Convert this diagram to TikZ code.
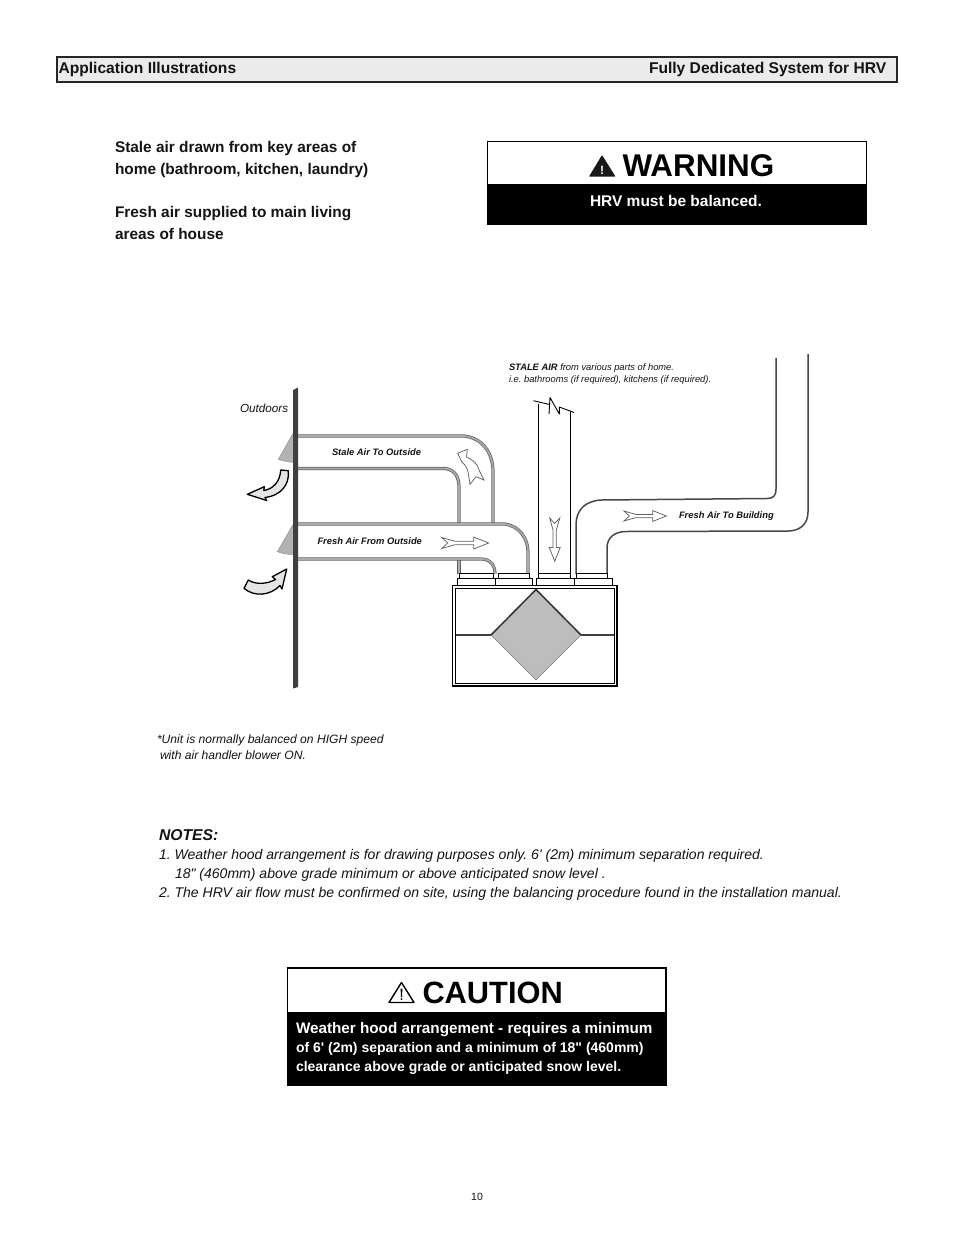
\documentclass[tikz,border=0pt]{standalone}
\usepackage{fontspec}
\setmainfont{Liberation Sans}[Ligatures=TeXOff]
\AtBeginDocument{\frenchspacing}
\newcommand{\fs}[1]{\fontsize{#1}{#1}\selectfont}
\tikzset{
  txt/.style={anchor=base west,inner sep=0pt,outer sep=0pt,text=#1},
  txt/.default={black!92},
  hd/.style={txt,font=\fs{15.6}\bfseries},
  lead/.style={txt,font=\fs{15.4}\bfseries},
  note/.style={txt,font=\fs{14.03}\itshape},
  small/.style={txt,font=\fs{12.1}\itshape},
  lab/.style={txt,font=\fs{9.35}\bfseries\itshape},
  tiny/.style={txt,font=\fs{9.35}\itshape},
  ductg/.style={draw=black!62,line width=3.2pt,postaction={draw=black!33,line width=1.7pt}},
  ductf/.style={draw=black!72,line width=1.5pt},
  thin line/.style={draw=black,line width=1pt},
  flow/.style={draw=black!62,fill=white,line width=.75pt},
  swoosh/.style={draw=black,fill=black!10,line width=1.3pt,line join=round},
  hood/.style={fill=black!30,draw=black!45,line width=.4pt},
  collar/.style={draw=black,fill=white,line width=1pt},
}
\newcommand{\flowarrow}[4]{%
  \begin{scope}[shift={(#1,#2)},rotate=#3,scale=#4]
    \path[flow] (0,-5.5)--(13,-1.8)--(32,-1.8)--(32,-6)--(47,0)--(32,6)--(32,1.8)--(13,1.8)--(0,5.5)--(6,0)--cycle;
  \end{scope}}
\begin{document}
\begin{tikzpicture}[x=1pt,y=-1pt]
\useasboundingbox (0,0) rectangle (954,1235);
\fill[white] (0,0) rectangle (954,1235);

% header
\draw[fill=black!8,draw=black!85,line width=1.5pt] (57,57) rectangle (897,82);
\node[hd] (h1) at (58.5,73.3) {Application Illustrations};
\node[hd] (h2) at (649,73.3) {Fully Dedicated System for HRV};

% lead text
\node[lead] (l1) at (115,152.2) {Stale air drawn from key areas of};
\node[lead] (l2) at (115,174.2) {home (bathroom, kitchen, laundry)};
\node[lead] (l3) at (115,217.2) {Fresh air supplied to main living};
\node[lead] (l4) at (115,239.2) {areas of house};

% warning
\draw[fill=white,draw=black,line width=1pt] (487.5,141) rectangle (866.5,224);
\fill[black] (487,184) rectangle (867,224);
\fill[black!90,rounded corners=.6pt] (602,155) -- (615.5,176.5) -- (589,176.5) -- cycle;
\node[txt=white,font=\fs{12}\bfseries,anchor=base] (wb) at (602,174.5) {!};
\node[txt=black,font=\fs{31.4}\bfseries] (w) at (622.5,176) {WARNING};
\node[txt=white,font=\fs{15.5}\bfseries,anchor=base] (w2) at (676,206.8) {HRV must be balanced.};

% wall
\fill[black!75] (293,390) -- (298,387.5) -- (298,687) -- (293,688.5) -- cycle;

% hoods
\path[hood] (292.7,434) -- (278.3,459.3) .. controls (283,461) and (288,462) .. (292.7,462.3) -- cycle;
\path[hood] (292.7,525) -- (277.3,551.7) .. controls (282,553.5) and (288,554.5) .. (292.7,554.5) -- cycle;

% stale duct
\path[ductg] (298,436) -- (464,436) .. controls (482,438) and (493,452) .. (493,472) -- (493,523);
\path[ductg] (298,468.5) -- (444,468.5) .. controls (454,469) and (459,476) .. (459,487) -- (459,523);
\path[ductg] (459,559) -- (459,574);
% fresh duct
\path[ductg] (298,524) -- (505,524) .. controls (519,526) and (528,538) .. (528,552) -- (528,574);
\path[ductg] (298,559) -- (481,559) .. controls (490,559) and (495,565) .. (495,574);
% stale from home
\draw[thin line] (538,404) -- (538,574);
\draw[thin line] (570,411) -- (570,574);
\draw[thin line,line width=.9pt] (533.5,400.7) -- (549.5,404.5);
\draw[thin line,line join=round,line width=.9pt] (549,414) -- (550,397.5) -- (559.3,414) -- (559.3,407) -- (574,412.5);
% to building
\path[ductf] (776,358) -- (776,489) .. controls (776,496) and (773,498.5) .. (767,498.5) -- (601,500) .. controls (585,501) and (576,510) .. (576,525) -- (576,574);
\path[ductf] (808,354) -- (808,512) .. controls (808,524) and (800,531) .. (788,531) -- (625,531.5) .. controls (614,532) and (607,538) .. (607,548) -- (607,574);

% collars
\draw[collar] (459.5,573) rectangle (493,578.5);
\draw[collar] (498,573) rectangle (529.5,578.5);
\draw[collar] (538,573) rectangle (570,578.5);
\draw[collar] (576,573) rectangle (607,578.5);
\draw[collar] (457,578.5) rectangle (495.5,585);
\draw[collar] (495.5,578.5) rectangle (532.5,585);
\draw[collar] (536,578.5) rectangle (574,585);
\draw[collar] (574,578.5) rectangle (612,585);

% HRV unit
\draw[draw=black,fill=white,line width=1.6pt] (452.5,585.5) rectangle (617,686);
\draw[draw=black,line width=.8pt] (455.5,588.5) rectangle (614,683.5);
\draw[draw=black!75,line width=1.5pt] (455.5,635) -- (491,635);
\draw[draw=black!75,line width=1.5pt] (581,635) -- (614,635);
\path[fill=black!26,draw=black!50,line width=.5pt] (536,590) -- (581,635) -- (536,680) -- (491,635) -- cycle;
\draw[draw=black!80,line width=1.5pt] (491,635) -- (536,589.5) -- (581,635);

% flow arrows
\flowarrow{441.7}{543}{0}{1}
\flowarrow{624}{516}{0}{.9}
\flowarrow{554.7}{518}{-90}{.92}
\path[flow] (457.7,453.3) -- (467.3,449.3) -- (466.5,457) .. controls (473,460) and (478,464) .. (479,470) -- (484,480) -- (476,476.7) -- (470,484.3) -- (468,471.7) .. controls (467,467) and (464,464) .. (461.7,461.7) -- cycle;

% swooshes
\path[swoosh] (247.3,494.3) -- (264.3,486.7) -- (263.8,490.5) .. controls (273,489) and (280,482) .. (280.7,470) -- (288.3,470.7) .. controls (290,485) and (280,496) .. (265,497.5) -- (266.7,500.5) -- cycle;
\path[swoosh] (286.7,569) -- (272.3,576.7) -- (275.5,579.5) .. controls (267,584) and (256,585) .. (248.3,580) -- (244,588.3) .. controls (254,597) and (270,596) .. (280,585.5) -- (282,589) -- cycle;

% diagram labels
\node[txt,font=\fs{11.7}\itshape] (out) at (240,412) {Outdoors};
\node[lab] (sa) at (332,455) {Stale Air To Outside};
\node[lab] (fa) at (317.5,544) {Fresh Air From Outside};
\node[lab] (fb) at (679,518) {Fresh Air To Building};
\node[tiny] (s1) at (509,370) {\textbf{STALE AIR} from various parts of home.};
\node[tiny] (s2) at (509,382) {i.e. bathrooms (if required), kitchens (if required).};

% balance note
\node[small] (u1) at (157,743) {*Unit is normally balanced on HIGH speed};
\node[small] (u2) at (160,759) {with air handler blower ON.};

% notes
\node[note,font=\fs{15.7}\bfseries\itshape] (n0) at (159,840.8) {NOTES:};
\node[note] (n1) at (159,859) {1. Weather hood arrangement is for drawing purposes only. 6' (2m) minimum separation required.};
\node[note] (n2) at (175,878) {18" (460mm) above grade minimum or above anticipated snow level .};
\node[note] (n3) at (159,897) {2. The HRV air flow must be confirmed on site, using the balancing procedure found in the installation manual.};

% caution
\draw[fill=white,draw=black,line width=1.4pt] (287.5,968) rectangle (666,1085.5);
\fill[black] (286.5,1012) rectangle (667,1086);
\draw[draw=black,line width=1.4pt,line join=round] (401.5,982.5) -- (414,1002.5) -- (389,1002.5) -- cycle;
\fill[black] (400.6,988.5) -- (402.4,988.5) -- (402,997) -- (401,997) -- cycle;
\fill[black] (401.5,999.2) circle (1pt);
\node[txt=black,font=\fs{30.8}\bfseries] (c) at (422.5,1003) {CAUTION};
\node[txt=white,font=\fs{15.25}\bfseries] (c1) at (296,1033) {Weather hood arrangement - requires a minimum};
\node[txt=white,font=\fs{14}\bfseries] (c2) at (296,1052) {of 6' (2m) separation and a minimum of 18" (460mm)};
\node[txt=white,font=\fs{14}\bfseries] (c3) at (296,1071) {clearance above grade or anticipated snow level.};

% page number
\node[txt,font=\fs{10.5},anchor=base] (pg) at (477,1200) {10};
\end{tikzpicture}
\end{document}
